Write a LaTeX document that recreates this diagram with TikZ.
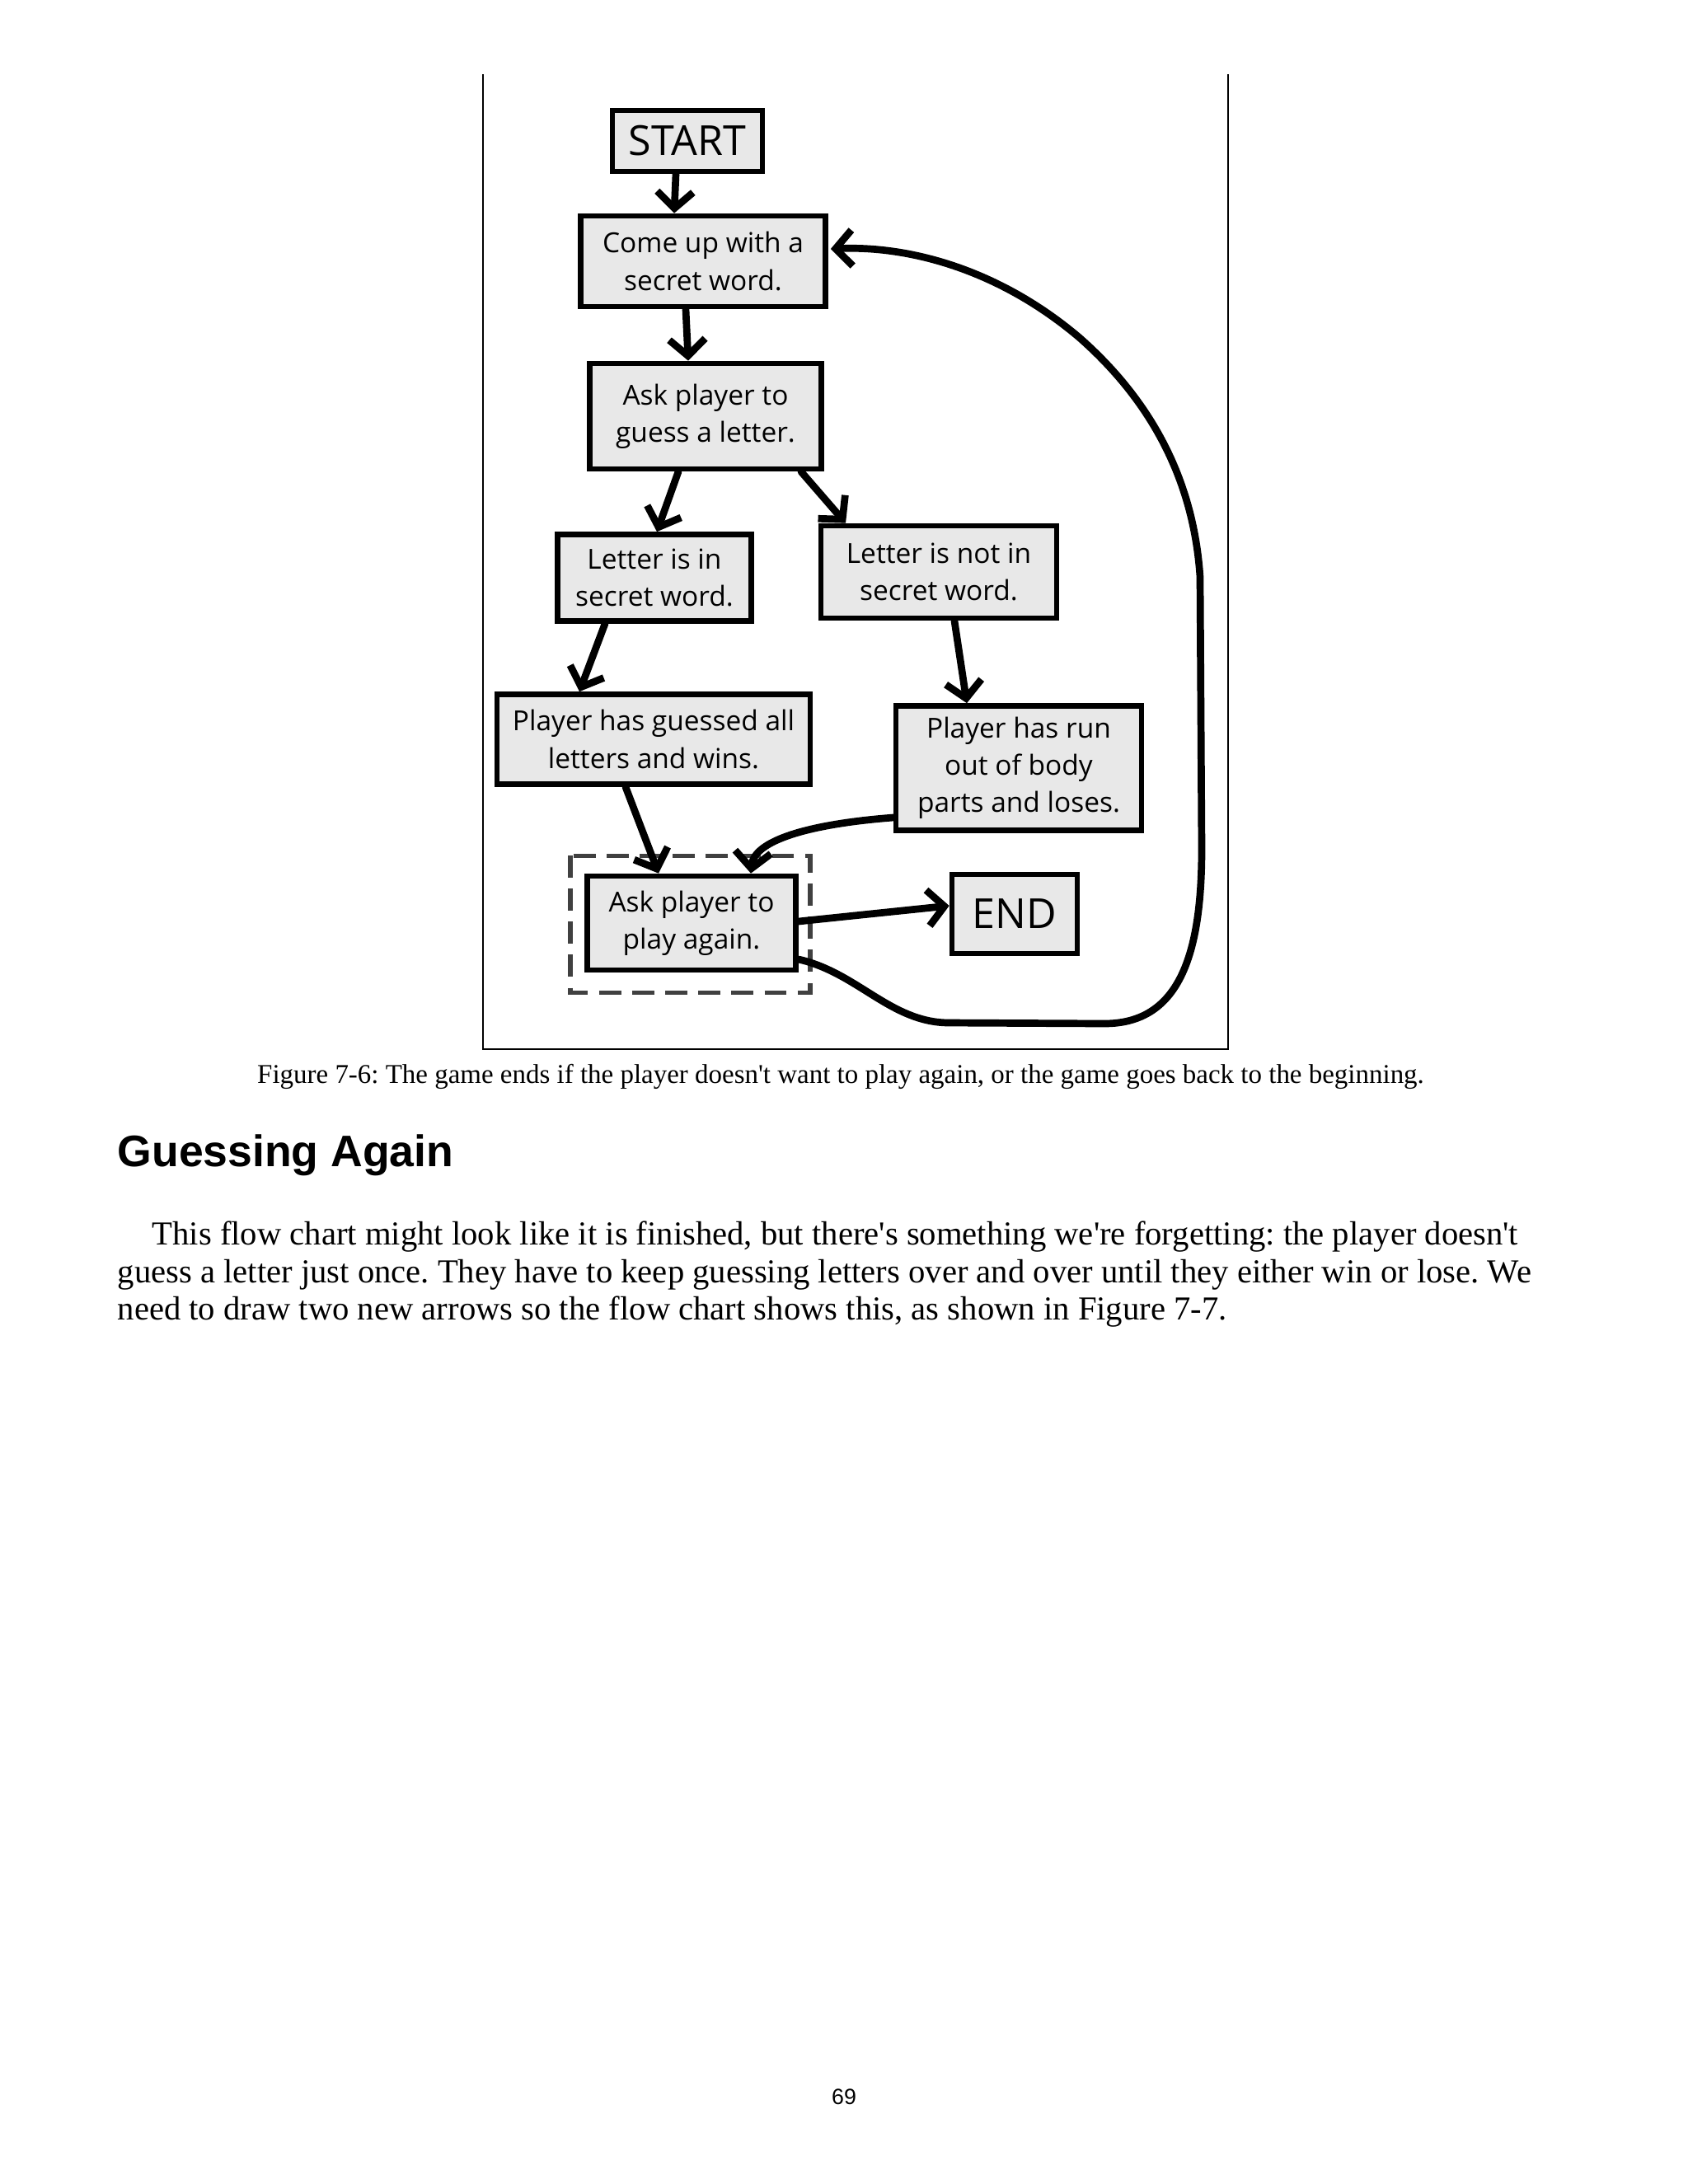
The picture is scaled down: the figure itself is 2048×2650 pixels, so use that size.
\documentclass[tikz,border=0pt]{standalone}
\usepackage{fontspec}
\setmainfont{Liberation Serif}
\newfontfamily\sansfont{Liberation Sans}
\newfontfamily\handfont{Open Sans}
\usetikzlibrary{arrows.meta,calc}
\newcommand{\pxu}{0.29883pt}
\newcommand{\sq}{\textquotesingle}
\frenchspacing
\tikzset{
	box/.style={draw=black, line width=2pt, fill=black!9, align=center, inner sep=0pt, font=\handfont\fontsize{10}{13.5}\selectfont},
	bigbox/.style={box, font=\handfont\fontsize{15}{18}\selectfont},
	boxsize/.style 2 args={minimum width=#1*\pxu, minimum height=#2*\pxu},
	arr/.style={line width=2.6pt, line cap=round, line join=round, -{Straight Barb[length=6pt,width=13pt]}},
	bodytext/.style={anchor=base west, inner sep=0pt, font=\fontsize{12.15}{14}\selectfont}
}

\begin{document}
\begin{tikzpicture}[x=\pxu, y=-\pxu]
			%%%%% START %%%%%
			\useasboundingbox (0,0) rectangle (2048,2650);
			
			\draw[line width=0.8pt] (586,90) -- (586,1273) -- (1490,1273) -- (1490,90);
			\draw[black!75, line width=1.5pt, dash pattern=on 8pt off 4pt] (692,1038) rectangle (983,1204);
			
			\node[bigbox, boxsize={182}{74}] (start) at (834,171) {START};
			\node[box, boxsize={297}{110}] (secret) at (853,317) {Come up with a\\secret word.};
			\node[box, boxsize={281}{128}] (guess) at (856,505) {Ask player to\\guess a letter.};
			\node[box, boxsize={235}{105}] (inword) at (794,701) {Letter is in\\secret word.};
			\node[box, boxsize={286}{112}] (notin) at (1139,694) {Letter is not in\\secret word.};
			\node[box, boxsize={380}{109}] (wins) at (793,897) {Player has guessed all\\letters and wins.};
			\node[box, boxsize={298}{151}] (loses) at (1236,932) {Player has run\\out of body\\parts and loses.};
			\node[box, boxsize={253}{114}] (again) at (839,1120) {Ask player to\\play again.};
			\node[bigbox, boxsize={152}{96}] (end) at (1231,1109) {END};
			
			\draw[arr] ($(start.south)+(-14,0)$) -- ($(secret.north)+(-35,0)$);
			\draw[arr] ($(secret.south)+(-21,0)$) -- ($(guess.north)+(-21,0)$);
			\draw[arr] ($(guess.south)+(-33,0)$) -- ($(inword.north)+(3,0)$);
			\draw[arr] ($(guess.south)+(116,0)$) -- ($(notin.north)+(-113,0)$);
			\draw[arr] ($(inword.south)+(-60,0)$) -- ($(wins.north)+(-90,0)$);
			\draw[arr] ($(notin.south)+(19,0)$) -- ($(loses.north)+(-63,0)$);
			\draw[arr] ($(wins.south)+(-34,0)$) -- ($(again.north)+(-40,0)$);
			\draw[arr] ($(loses.west)+(0,60)$) .. controls (980,1000) and (915,1020) .. ($(again.north)+(72,0)$);
			\draw[arr] ($(again.east)+(0,-2)$) -- ($(end.west)+(0,-10)$);
			\draw[arr] ($(again.east)+(0,44)$) .. controls (1040,1180) and (1080,1240) .. (1150,1241) -- (1340,1242)
				.. controls (1430,1242) and (1458,1160) .. (1458,1030) -- (1456,700)
				.. controls (1448,580) and (1395,485) .. (1310,410)
				.. controls (1210,325) and (1100,298) .. ($(secret.east)+(3,-15)$);
			
			\node[anchor=base, inner sep=0pt, font=\fontsize{9.85}{12}\selectfont] (caption) at (1020,1314)
				{Figure 7-6: The game ends if the player doesn\sq t want to play again, or the game goes back to the beginning.};
			\node[anchor=base west, inner sep=0pt, font=\sansfont\bfseries\fontsize{16}{19}\selectfont] (heading) at (142,1415) {Guessing Again};
			
			\node[bodytext] (line1) at (184,1510) {This flow chart might look like it is finished, but there\sq s something we\sq re forgetting: the player doesn\sq t};
			\node[bodytext] (line2) at (142,1556) {guess a letter just once. They have to keep guessing letters over and over until they either win or lose. We};
			\node[bodytext] (line3) at (142,1601) {need to draw two new arrows so the flow chart shows this, as shown in Figure 7-7.};
			
			\node[anchor=base, inner sep=0pt, font=\sansfont\fontsize{8}{10}\selectfont] (pagenum) at (1024,2553) {69};
			%%%%% END %%%%%
\end{tikzpicture}
\end{document}
